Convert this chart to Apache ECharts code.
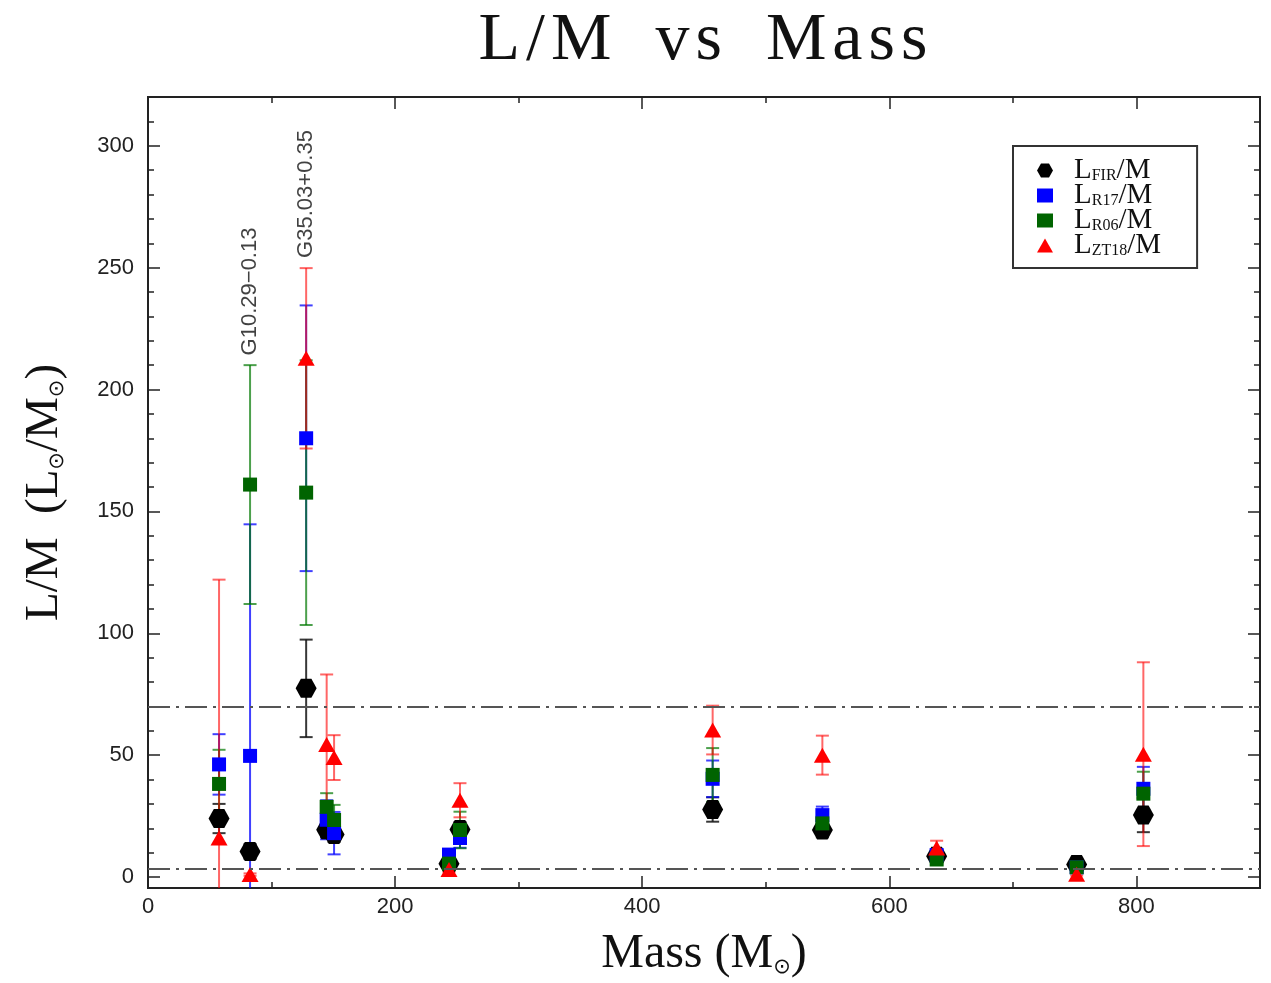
<!DOCTYPE html>
<html>
<head>
<meta charset="utf-8">
<script src="https://cdn.jsdelivr.net/npm/echarts@6/dist/echarts.min.js"></script>
<style>html,body{margin:0;padding:0;background:#fff;overflow:hidden}#c{width:1271px;height:983px}</style>
</head>
<body>
<div id="c"></div>
<script>
// ---------- data ----------
const masses = [57.5, 82.6, 128, 144.6, 150.6, 243.6, 252.5, 457, 545.8, 638.3, 751.6, 805.6];
const lmFIR    = [24, 10.5, 77.4, 19.4, 17.4, 5.4, 19.5, 27.7, 19.3, 8.5, 5.1, 25.4];
const errFIR   = [6, 3, 20, 3, 3, 1.5, 3, 5, 3, 2, 1.5, 7];
const lmR17    = [46.2, 49.7, 180, 23.5, 18, 9.2, 16, 40.3, 25.4, 9, 4, 36.2];
const errR17   = [12.4, 95, 54.5, 8, 8.7, 2, 4, 7.5, 3.5, 2, 1, 9];
const lmR06    = [38.2, 161, 157.7, 28.8, 23.4, 5.5, 19.3, 41.9, 22, 7.2, 4, 34.2];
const errR06   = [14, 49, 54.3, 5.6, 6.2, 1.5, 7.5, 11, 3, 2, 1.5, 9];
const lmZT18   = [16, 1, 212.8, 54.4, 49, 3.1, 31.5, 60.3, 50, 11.9, 1.1, 50.4];
const errZT18  = [106, 0.5, 37, 28.7, 9.2, 1, 7, 10, 8, 3, 0.5, 37.7];
const refLines = [70, 3.2];
const annotNames = ['G10.29\u22120.13', 'G35.03+0.35'];
const annotX = [82.6, 128];
const annotY = [214, 254];
const xMajor = [0, 200, 400, 600, 800];
const xMinor = [100, 300, 500, 700];
const yMajor = [0, 50, 100, 150, 200, 250, 300];
const yMinor = [10, 20, 30, 40, 60, 70, 80, 90, 110, 120, 130, 140, 160, 170, 180, 190, 210, 220, 230, 240, 260, 270, 280, 290, 310];
const X_MIN = 0, X_MAX = 900, Y_MIN = -4.5, Y_MAX = 320;

// ---------- styling ----------
const SERIF = 'Liberation Serif';
const SANS = 'Liberation Sans';
const hexPath = 'path://M-1,0 L-0.5,-0.866 L0.5,-0.866 L1,0 L0.5,0.866 L-0.5,0.866 Z';
const defs = [
  {key:'FIR',  name:'L_FIR/M',  vals:lmFIR,  errs:errFIR,  color:'#000000', bar:'rgba(20,20,20,0.85)', symbol:hexPath, size:[21,19]},
  {key:'R17',  name:'L_R17/M',  vals:lmR17,  errs:errR17,  color:'#0000ff', bar:'rgba(0,0,255,0.75)', symbol:'rect', size:14},
  {key:'R06',  name:'L_R06/M',  vals:lmR06,  errs:errR06,  color:'#006400', bar:'rgba(0,120,0,0.7)', symbol:'rect', size:14},
  {key:'ZT18', name:'L_ZT18/M', vals:lmZT18, errs:errZT18, color:'#ff0000', bar:'rgba(255,0,0,0.6)', symbol:'triangle', size:[17,15]}
];

function makeErr(def) {
  return {
    type:'custom', name:'err_' + def.key, z:2, silent:true,
    xAxisIndex:0, yAxisIndex:0,
    encode:{x:0, y:[1,2]},
    data: masses.map((m,i) => [m, def.vals[i] - def.errs[i], def.vals[i] + def.errs[i]]),
    renderItem: function(params, api) {
      const x = api.value(0);
      let lo = api.value(1), hi = api.value(2);
      const loClip = lo < Y_MIN, hiClip = hi > Y_MAX;
      lo = Math.max(lo, Y_MIN); hi = Math.min(hi, Y_MAX);
      const p1 = api.coord([x, lo]), p2 = api.coord([x, hi]);
      const hw = 6.5;
      const st = {stroke:def.bar, lineWidth:2};
      const ch = [{type:'line', shape:{x1:p1[0], y1:p1[1], x2:p2[0], y2:p2[1]}, style:st}];
      if (!loClip) ch.push({type:'line', shape:{x1:p1[0]-hw, y1:p1[1], x2:p1[0]+hw, y2:p1[1]}, style:st});
      if (!hiClip) ch.push({type:'line', shape:{x1:p2[0]-hw, y1:p2[1], x2:p2[0]+hw, y2:p2[1]}, style:st});
      return {type:'group', children:ch};
    }
  };
}
function makeScatter(def) {
  return {
    type:'scatter', name:def.name, z:3,
    xAxisIndex:0, yAxisIndex:0,
    symbol:def.symbol, symbolSize:def.size,
    itemStyle:{color:def.color, opacity:1},
    data: masses.map((m,i) => [m, def.vals[i]])
  };
}

const series = [];
defs.forEach(d => series.push(makeErr(d)));
defs.forEach(d => series.push(makeScatter(d)));
series.push({
  type:'scatter', name:'annot', z:4, silent:true,
  xAxisIndex:0, yAxisIndex:0,
  symbolSize:0,
  data: annotNames.map((n,i) => ({name:n, value:[annotX[i], annotY[i]]})),
  label:{show:true, formatter:'{b}', position:'top', distance:0, rotate:90, align:'left', verticalAlign:'middle',
         fontFamily:SANS, fontSize:22, color:'#111'},
  markLine:{
    silent:true, symbol:'none', animation:false,
    label:{show:false},
    lineStyle:{color:'#555', width:2, type:[22,6,3,6]},
    data: refLines.map(v => ({yAxis:v}))
  }
});

const lineStyle = {color:'#222', width:2};
function xAx(pos, vals, len, labels) {
  return {
    type:'value', position:pos, min:X_MIN, max:X_MAX,
    axisLine:{show:true, onZero:false, lineStyle:lineStyle},
    axisTick:{show:true, inside:true, length:len, customValues:vals, lineStyle:{color:'#222', width:1.5}},
    axisLabel:{show:labels, customValues:vals, fontFamily:SANS, fontSize:22, color:'#222', margin:8},
    splitLine:{show:false}
  };
}
function yAx(pos, vals, len, labels) {
  return {
    type:'value', position:pos, min:Y_MIN, max:Y_MAX,
    axisLine:{show:true, onZero:false, lineStyle:lineStyle},
    axisTick:{show:true, inside:true, length:len, customValues:vals, lineStyle:{color:'#222', width:1.5}},
    axisLabel:{show:labels, customValues:vals, fontFamily:SANS, fontSize:22, color:'#222', margin:14},
    splitLine:{show:false}
  };
}
const xAxes = [xAx('bottom', xMajor, 12, true), xAx('bottom', xMinor, 6, false), xAx('top', xMajor, 12, false), xAx('top', xMinor, 6, false)];
xAxes[0].name = '{n|Mass (M}{s|\u2299}{n|)}';
xAxes[0].nameLocation = 'middle';
xAxes[0].nameGap = 42;
xAxes[0].nameTextStyle = {rich:{n:{fontFamily:SERIF, fontSize:48, color:'#111'}, s:{fontFamily:'DejaVu Sans', fontSize:21, color:'#111', verticalAlign:'bottom', padding:[24,0,0,0]}}};
const yAxes = [yAx('left', yMajor, 12, true), yAx('left', yMinor, 6, false), yAx('right', yMajor, 12, false), yAx('right', yMinor, 6, false)];
yAxes[0].name = '{n|L/M  (L}{s|\u2299}{n|/M}{s|\u2299}{n|)}';
yAxes[0].nameLocation = 'middle';
yAxes[0].nameGap = 80;
yAxes[0].nameRotate = 90;
yAxes[0].nameTextStyle = {rich:{n:{fontFamily:SERIF, fontSize:47, color:'#111'}, s:{fontFamily:'DejaVu Sans', fontSize:21, color:'#111', verticalAlign:'bottom', padding:[24,0,0,0]}}};

const titleChars = ['L','/','M',' ','v','s',' ','M','a','s','s'];
const legendSub = {'L_FIR/M':'FIR', 'L_R17/M':'R17', 'L_R06/M':'R06', 'L_ZT18/M':'ZT18'};

const chart = echarts.init(document.getElementById('c'), null, {renderer:'canvas'});
chart.setOption({
  backgroundColor:'#ffffff',
  animation:false,
  title:{
    text: titleChars.map(c => c === ' ' ? '{sp|}' : '{a|' + c + '}').join(''),
    left:698, top:2, textAlign:'center',
    textStyle:{rich:{
      a:{fontFamily:SERIF, fontSize:68, fontWeight:'normal', color:'#111', padding:[0,3]},
      sp:{width:38}
    }}
  },
  grid:{left:148, right:11, top:97, bottom:86, containLabel:false},
  xAxis: xAxes,
  yAxis: yAxes,
  legend:{
    show:true, orient:'vertical', left:1013, top:146,
    padding:[10,36,8,24], itemGap:-4, itemWidth:16, itemHeight:14,
    backgroundColor:'#fff', borderColor:'#333', borderWidth:2,
    data:[
      {name:'L_FIR/M', icon:hexPath},
      {name:'L_R17/M', icon:'rect'},
      {name:'L_R06/M', icon:'rect'},
      {name:'L_ZT18/M', icon:'triangle'}
    ],
    formatter: n => '{g|}{l|L}{s|' + legendSub[n] + '}{l|/M}',
    textStyle:{rich:{
      g:{width:16, height:20},
      l:{fontFamily:SERIF, fontSize:29, color:'#111', lineHeight:20, height:20},
      s:{fontFamily:SERIF, fontSize:16, color:'#111', verticalAlign:'bottom', lineHeight:10, height:10}
    }},
    selectedMode:false
  },
  series: series
});
</script>
</body>
</html>
